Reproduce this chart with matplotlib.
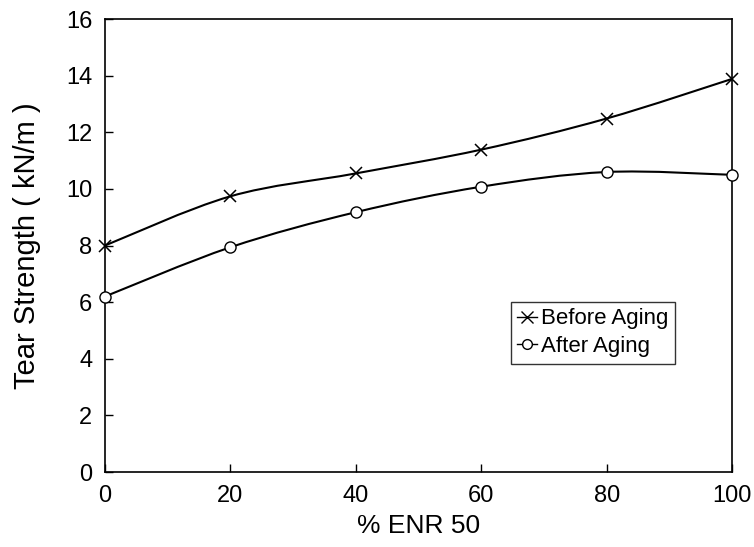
import matplotlib
matplotlib.use("Agg")
import matplotlib.pyplot as plt
from matplotlib.path import Path
from matplotlib.patches import PathPatch

enr = [0, 20, 40, 60, 80, 100]
before_aging = [8.0, 9.74, 10.55, 11.39, 12.49, 13.89]
after_aging = [6.2, 7.94, 9.18, 10.08, 10.6, 10.5]
x_ticks = [0, 20, 40, 60, 80, 100]
y_ticks = [0, 2, 4, 6, 8, 10, 12, 14, 16]

plt.rcParams['font.family'] = ["Liberation Sans", "DejaVu Sans"]

fig = plt.figure(figsize=(7.54, 5.47), dpi=100)
ax = fig.add_axes([0.139, 0.137, 0.832, 0.828])


def smooth_path(xs, ys):
    # Catmull-Rom spline expressed as cubic Bezier segments in data coordinates
    verts = [(xs[0], ys[0])]
    codes = [Path.MOVETO]
    n = len(xs)
    for i in range(n - 1):
        x0, y0 = (xs[i - 1], ys[i - 1]) if i > 0 else (xs[i], ys[i])
        x1, y1 = xs[i], ys[i]
        x2, y2 = xs[i + 1], ys[i + 1]
        x3, y3 = (xs[i + 2], ys[i + 2]) if i + 2 < n else (xs[i + 1], ys[i + 1])
        c1 = (x1 + (x2 - x0) / 6.0, y1 + (y2 - y0) / 6.0)
        c2 = (x2 - (x3 - x1) / 6.0, y2 - (y3 - y1) / 6.0)
        verts += [c1, c2, (x2, y2)]
        codes += [Path.CURVE4, Path.CURVE4, Path.CURVE4]
    return Path(verts, codes)


for ys in (before_aging, after_aging):
    ax.add_patch(PathPatch(smooth_path(enr, ys), facecolor="none", edgecolor="black",
                           linewidth=1.5, clip_on=False, zorder=3))

ax.plot(enr, before_aging, linestyle="none", marker="x", markersize=9, markeredgewidth=1.1,
        color="black", clip_on=False, zorder=4)
ax.plot(enr, after_aging, linestyle="none", marker="o", markersize=8, markeredgewidth=1.0,
        markerfacecolor="white", color="black", clip_on=False, zorder=4)

h1, = ax.plot([], [], color="black", marker="x", markersize=8, linewidth=1.0, markeredgewidth=1.0)
h2, = ax.plot([], [], color="black", marker="o", markersize=7, linewidth=1.0, markerfacecolor="white")
leg = ax.legend([h1, h2], ["Before Aging", "After Aging"], loc="upper left",
                bbox_to_anchor=(0.647, 0.376), frameon=True, fancybox=False,
                edgecolor="black", handlelength=0.9, handletextpad=0.15,
                borderpad=0.3, labelspacing=0.3, borderaxespad=0,
                prop={"size": 16})
leg.get_frame().set_linewidth(1.0)

ax.set_xlim(0, 100)
ax.set_ylim(0, 16)
ax.set_xticks(x_ticks)
ax.set_yticks(y_ticks)
ax.tick_params(direction="in", length=6, width=1, labelsize=17, pad=9)
for s in ax.spines.values():
    s.set_linewidth(1.2)

ax.set_xlabel("% ENR 50", fontsize=19, labelpad=5)
ax.set_ylabel("Tear Strength ( kN/m )", fontsize=21, labelpad=18)

fig.savefig("out.png", dpi=100)
